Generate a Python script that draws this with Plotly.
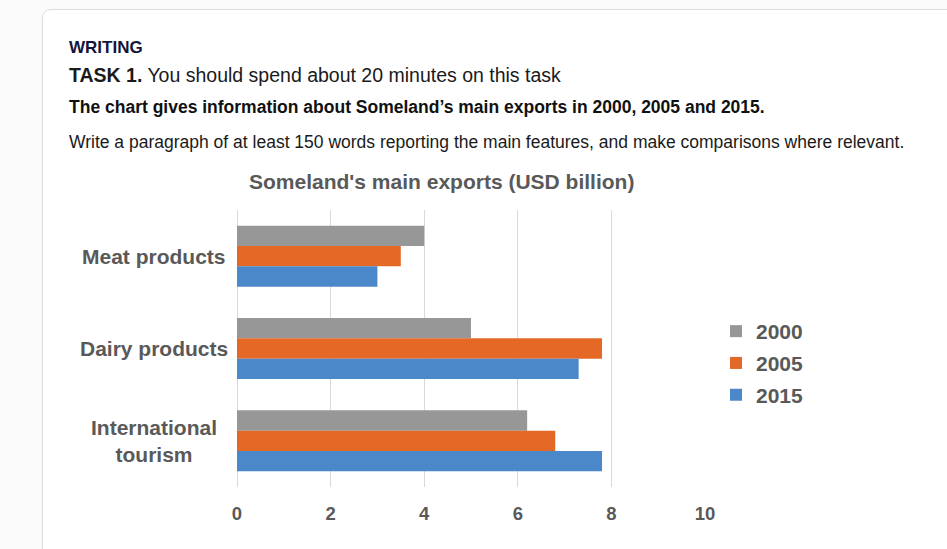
import plotly.graph_objects as go

categories = ["Meat products", "Dairy products", "International<br>tourism"]
years = ["2000", "2005", "2015"]
values_2000 = [4.0, 5.0, 6.2]
values_2005 = [3.5, 7.8, 6.8]
values_2015 = [3.0, 7.3, 7.8]
x_ticks = [0, 2, 4, 6, 8, 10]

colors = {"2000": "#979797", "2005": "#e46927", "2015": "#4a88ca"}
series = {"2000": values_2000, "2005": values_2005, "2015": values_2015}

W, H = 947, 549
L, R, T, B = 237, 705, 210, 487  # plot area in pixels

def px(x):
    return (x - L) / (R - L)

def py(y):
    return (B - y) / (B - T)

fig = go.Figure()
for yr in years:
    fig.add_trace(go.Bar(
        y=categories, x=series[yr], name=yr, orientation="h", legendgroup=yr,
        marker=dict(color=colors[yr], line=dict(width=0)),
    ))

txt = "#595959"
font_chart = "Arial, Liberation Sans, sans-serif"

annotations = [
    dict(x=px(67), y=py(47), text="<b>WRITING</b>", font=dict(size=17, color="#14143c")),
    dict(x=px(67), y=py(75), text="<b>TASK 1.</b> You should spend about 20 minutes on this task",
         font=dict(size=19.5, color="#1a1a1a")),
    dict(x=px(67), y=py(107), text="<b>The chart gives information about Someland’s main exports in 2000, 2005 and 2015.</b>",
         font=dict(size=17.5, color="#111111")),
    dict(x=px(67), y=py(142), text="Write a paragraph of at least 150 words reporting the main features, and make comparisons where relevant.",
         font=dict(size=17.5, color="#1a1a1a")),
]
for a in annotations:
    a.update(xref="paper", yref="paper", xanchor="left", yanchor="middle", showarrow=False)
    a["font"]["family"] = font_chart

annotations.append(dict(
    x=px(441), y=py(181), xref="paper", yref="paper", xanchor="center", yanchor="middle",
    showarrow=False, text="<b>Someland's main exports (USD billion)</b>",
    font=dict(size=21, color=txt, family=font_chart)))

for c in categories:
    annotations.append(dict(
        x=px(154), y=c, xref="paper", yref="y", xanchor="center", yanchor="middle",
        showarrow=False, align="center", text="<b>" + c + "</b>",
        font=dict(size=21, color=txt, family=font_chart)))

# card outline with rounded corner
x0, y0, x1, y1 = 42.5, 9.5, 960, 570
rr = 9
path = (f"M {px(x0)},{py(y1)} L {px(x0)},{py(y0+rr)} "
        f"Q {px(x0)},{py(y0)} {px(x0+rr)},{py(y0)} L {px(x1)},{py(y0)}")

fig.update_layout(
    width=W, height=H,
    margin=dict(l=L, r=W - R, t=T, b=H - B, pad=0),
    paper_bgcolor="#fafafa",
    plot_bgcolor="rgba(0,0,0,0)",
    barmode="group",
    bargap=0.34,
    bargroupgap=0,
    showlegend=True,
    legend=dict(x=px(716), y=py(311), xanchor="left", yanchor="top",
                font=dict(size=21, color=txt, family=font_chart, weight="bold"),
                itemwidth=30, tracegroupgap=1.5, bgcolor="rgba(0,0,0,0)"),
    xaxis=dict(range=[0, 10], tickvals=x_ticks, showgrid=True, gridcolor="#d9d9d9",
               gridwidth=1, zeroline=True, zerolinecolor="#d9d9d9", zerolinewidth=1,
               showline=False, ticks="", fixedrange=True, ticklabelstandoff=13,
               tickfont=dict(size=18.5, color=txt, family=font_chart, weight="bold")),
    yaxis=dict(autorange="reversed", showticklabels=False, showgrid=False,
               showline=False, ticks="", zeroline=False),
    annotations=annotations,
    shapes=[
        dict(type="rect", xref="paper", yref="paper", x0=px(x0), y0=py(y1), x1=px(x1), y1=py(y0),
             fillcolor="white", line=dict(width=0), layer="below"),
        dict(type="path", xref="paper", yref="paper", path=path,
             line=dict(color="#dcdcdc", width=1), layer="below"),
    ],
)

fig.write_html("out.html")
